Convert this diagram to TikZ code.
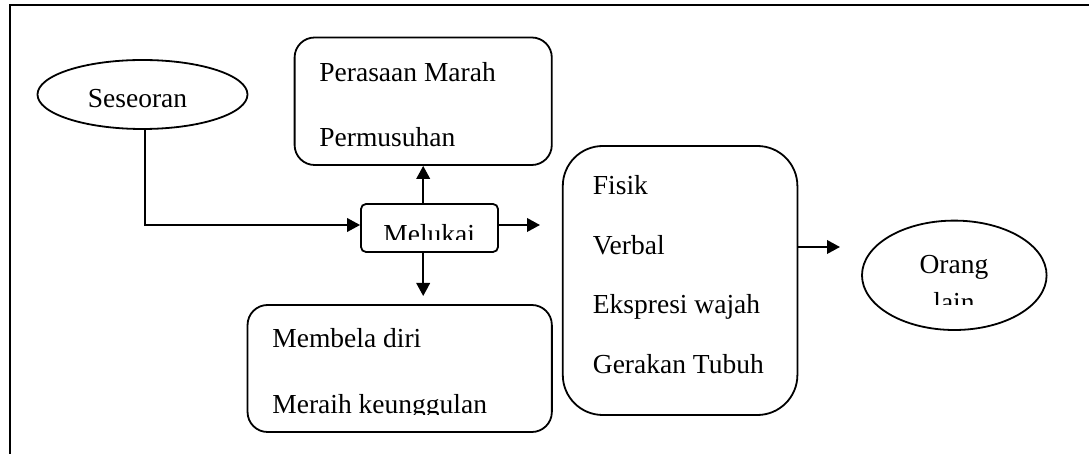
\documentclass[tikz,border=0pt]{standalone}
\usepackage{fontspec}
\setmainfont{Liberation Serif}
\usetikzlibrary{shapes.geometric,arrows.meta}

\begin{document}
\begin{tikzpicture}[x=0.5pt,y=-0.5pt,
    box/.style={draw,line width=0.9pt,rounded corners=10pt,inner sep=0pt},
    oval/.style={draw,ellipse,line width=0.9pt,inner sep=0pt},
    txt/.style={anchor=base west,inner sep=0pt,font=\fontsize{13.75pt}{16pt}\selectfont},
    mid/.style={txt,anchor=base},
    arr/.style={-{Triangle[length=6.5pt,width=6.8pt]},line width=0.9pt}]
    \useasboundingbox (0,0) rectangle (1089,454);
    \draw[line width=1pt] (10,454) -- (10,5) -- (1089,5);

    % shapes
    \node[oval,minimum width=105pt,minimum height=34.5pt] (ses) at (142.5,94.5) {};
    \node[box,minimum width=128.6pt,minimum height=63.75pt] (per) at (423.2,101.25) {};
    \node[box,rounded corners=2.5pt,minimum width=68.5pt,minimum height=24pt] (mel) at (429.5,228) {};
    \node[box,minimum width=152.15pt,minimum height=63.5pt] (mem) at (399.7,368.5) {};
    \node[box,rounded corners=20pt,minimum width=117.3pt,minimum height=134.5pt] (fis) at (680.1,280.5) {};
    \node[oval,minimum width=92.3pt,minimum height=54.7pt] (ora) at (954.3,275.3) {};

    % texts
    \node[mid] (sesT) at (137.5,108) {Seseoran};
    \node[txt] (perA) at (319,81.5) {Perasaan Marah};
    \node[txt] (perB) at (319,146.5) {Permusuhan};
    \node[txt] (memA) at (272,348) {Membela diri};
    \foreach \t [count=\i] in {Fisik,Verbal,Ekspresi wajah,Gerakan Tubuh}
        \node[txt] (fis\i) at (592.5,135.5+59.5*\i) {\t};
    \node[mid] (oraA) at (954,274) {Orang};
    \begin{scope}
        \clip (361,204) rectangle (498,240);
        \node[txt] (melT) at (383,243.3) {Melukai};
    \end{scope}
    \begin{scope}
        \clip (247,305) rectangle (552,414.5);
        \node[txt] (memB) at (272,413.5) {Meraih keunggulan};
    \end{scope}
    \begin{scope}
        \clip (862,290) rectangle (1047,304.5);
        \node[mid] (oraB) at (954,312) {lain};
    \end{scope}

    % connectors
    \coordinate (dn) at (423.2,296);
    \coordinate (rt) at (540,225);
    \coordinate (rt2) at (840,247);
    \draw[arr] (ses.south -| 144.6,0) |- (mel.west |- rt);
    \draw[arr] (mel.north -| per.south) -- (per.south);
    \draw[arr] (mel.south -| dn) -- (dn);
    \draw[arr] (mel.east |- rt) -- (rt);
    \draw[arr] (fis.east |- rt2) -- (rt2);
\end{tikzpicture}
\end{document}
